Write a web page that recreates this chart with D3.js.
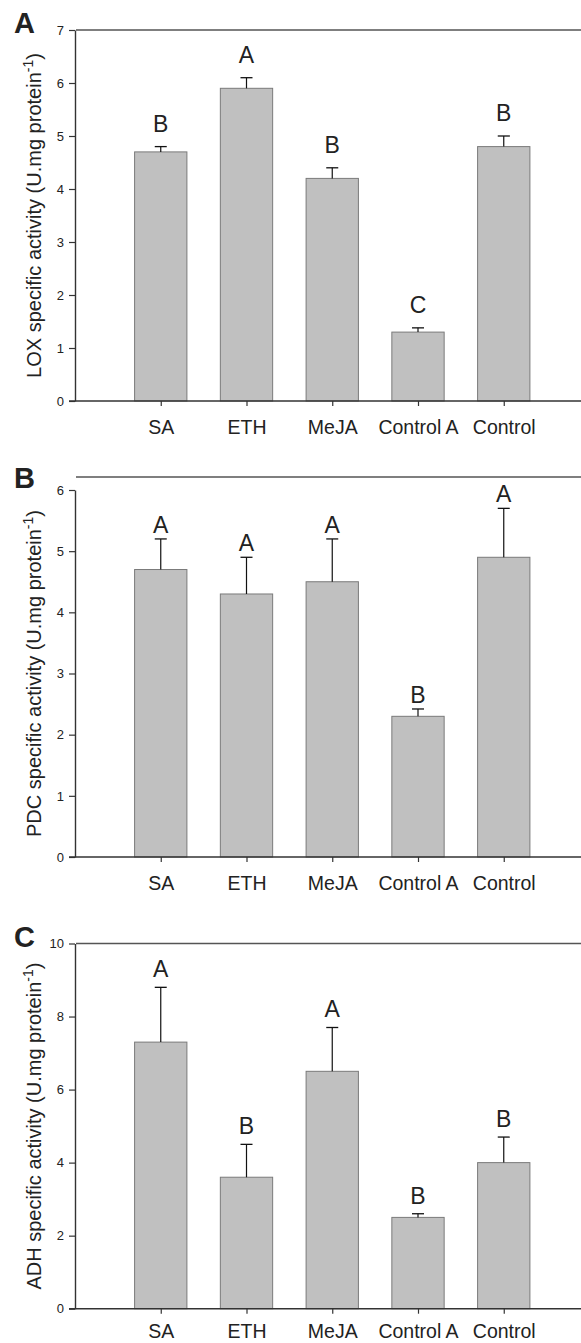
<!DOCTYPE html>
<html>
<head>
<meta charset="utf-8">
<script src="https://cdn.jsdelivr.net/npm/d3@7"></script>
<style>
  body { margin: 0; background: #fff; }
  text { font-family: "Liberation Sans", Arial, sans-serif; fill: #222; }
</style>
</head>
<body>
<script>
// treatments along the x axis
var categories = ["SA", "ETH", "MeJA", "Control A", "Control"];

// LOX (panel A)
var loxMean = [4.7, 5.9, 4.2, 1.3, 4.8];
var loxErr = [0.1, 0.2, 0.2, 0.08, 0.2];
var loxLetters = ["B", "A", "B", "C", "B"];
var loxTicks = [0, 1, 2, 3, 4, 5, 6, 7];

// PDC (panel B)
var pdcMean = [4.7, 4.3, 4.5, 2.3, 4.9];
var pdcErr = [0.5, 0.6, 0.7, 0.12, 0.8];
var pdcLetters = ["A", "A", "A", "B", "A"];
var pdcTicks = [0, 1, 2, 3, 4, 5, 6];

// ADH (panel C)
var adhMean = [7.3, 3.6, 6.5, 2.5, 4.0];
var adhErr = [1.5, 0.9, 1.2, 0.1, 0.7];
var adhLetters = ["A", "B", "A", "B", "B"];
var adhTicks = [0, 2, 4, 6, 8, 10];

var W = 581, H = 1343;
var svg = d3.select("body").append("svg")
    .attr("width", W)
    .attr("height", H);

var x = d3.scaleLinear().domain([0, 6]).range([75, 589.5]);
var barW = x(0.61) - x(0);

var panels = [
  {tag: "A", name: "LOX", mean: loxMean, err: loxErr, letters: loxLetters, ticks: loxTicks,
   top: 30, bottom: 401, frame: 30, gap: 15, labelY: 33},
  {tag: "B", name: "PDC", mean: pdcMean, err: pdcErr, letters: pdcLetters, ticks: pdcTicks,
   top: 490, bottom: 857, frame: 477, gap: 6, labelY: 33},
  {tag: "C", name: "ADH", mean: adhMean, err: adhErr, letters: adhLetters, ticks: adhTicks,
   top: 943.5, bottom: 1308.7, frame: 943.5, gap: 10, labelY: 29}
];

panels.forEach(function (p) {
  var g = svg.append("g");
  var y = d3.scaleLinear()
      .domain([0, d3.max(p.ticks)])
      .range([p.bottom, p.top]);

  // top frame line
  g.append("line")
      .attr("x1", x(0) + 1).attr("x2", W)
      .attr("y1", p.frame).attr("y2", p.frame)
      .attr("stroke", "#555").attr("stroke-width", 1.4);

  var rows = categories.map(function (c, i) {
    return {cat: c, i: i + 1, m: p.mean[i], e: p.err[i], l: p.letters[i]};
  });

  // bars
  g.selectAll("rect.bar")
      .data(rows)
      .enter().append("rect")
      .attr("class", "bar")
      .attr("x", function (d) { return x(d.i) - barW / 2; })
      .attr("width", barW)
      .attr("y", function (d) { return y(d.m); })
      .attr("height", function (d) { return y(0) - y(d.m); })
      .attr("fill", "#c0c0c0")
      .attr("stroke", "#7a7a7a")
      .attr("stroke-width", 1);

  // error bars (upper only)
  var eb = g.selectAll("g.err")
      .data(rows)
      .enter().append("g")
      .attr("class", "err");
  eb.append("line")
      .attr("x1", function (d) { return x(d.i); })
      .attr("x2", function (d) { return x(d.i); })
      .attr("y1", function (d) { return y(d.m); })
      .attr("y2", function (d) { return y(d.m + d.e); })
      .attr("stroke", "#111").attr("stroke-width", 1.2);
  eb.append("line")
      .attr("x1", function (d) { return x(d.i) - 6; })
      .attr("x2", function (d) { return x(d.i) + 6; })
      .attr("y1", function (d) { return y(d.m + d.e); })
      .attr("y2", function (d) { return y(d.m + d.e); })
      .attr("stroke", "#111").attr("stroke-width", 1.3);

  // significance letters
  g.selectAll("text.sig")
      .data(rows)
      .enter().append("text")
      .attr("class", "sig")
      .attr("x", function (d) { return x(d.i); })
      .attr("y", function (d) { return y(d.m + d.e) - p.gap; })
      .attr("text-anchor", "middle")
      .style("font-size", "23px")
      .text(function (d) { return d.l; });

  // y axis
  var ya = g.append("g")
      .attr("transform", "translate(" + x(0) + ",0)")
      .call(d3.axisLeft(y).tickValues(p.ticks).tickFormat(d3.format("d"))
          .tickSize(6).tickSizeOuter(0).tickPadding(5));
  ya.select(".domain").attr("stroke", "#333").attr("stroke-width", 1.4);
  ya.selectAll(".tick line").attr("stroke", "#333").attr("stroke-width", 1.2);
  ya.selectAll(".tick text")
      .style("font-size", "13px")
      .style("font-family", "Liberation Sans, Arial, sans-serif")
      .attr("fill", "#333");

  // x axis
  var xa = g.append("g")
      .attr("transform", "translate(0," + p.bottom + ")")
      .call(d3.axisBottom(x)
          .tickValues([1, 2, 3, 4, 5])
          .tickFormat(function (v) { return categories[v - 1]; })
          .tickSize(5).tickSizeOuter(0));
  xa.select(".domain").attr("stroke", "#333").attr("stroke-width", 1.4)
      .attr("d", "M" + (x(0) - 6) + ",0H" + W);
  xa.selectAll(".tick line").attr("stroke", "#333").attr("stroke-width", 1.2);
  xa.selectAll(".tick text")
      .attr("y", p.labelY).attr("dy", null)
      .style("font-size", "19.5px")
      .style("font-family", "Liberation Sans, Arial, sans-serif")
      .attr("fill", "#222");

  // y axis title
  var t = g.append("text")
      .attr("transform", "translate(41," + ((p.top + p.bottom) / 2) + ") rotate(-90)")
      .attr("text-anchor", "middle")
      .style("font-size", "20px");
  t.append("tspan").text(p.name + " specific activity (U.mg protein");
  t.append("tspan").attr("dy", -8).style("font-size", "14px").text("-1");
  t.append("tspan").attr("dy", 8).text(")");

  // panel tag
  g.append("text")
      .attr("x", 14)
      .attr("y", p.frame + (p.tag === "B" ? 11 : 3))
      .style("font-size", "29px")
      .style("font-weight", "bold")
      .attr("fill", "#000")
      .text(p.tag);
});
</script>
</body>
</html>
